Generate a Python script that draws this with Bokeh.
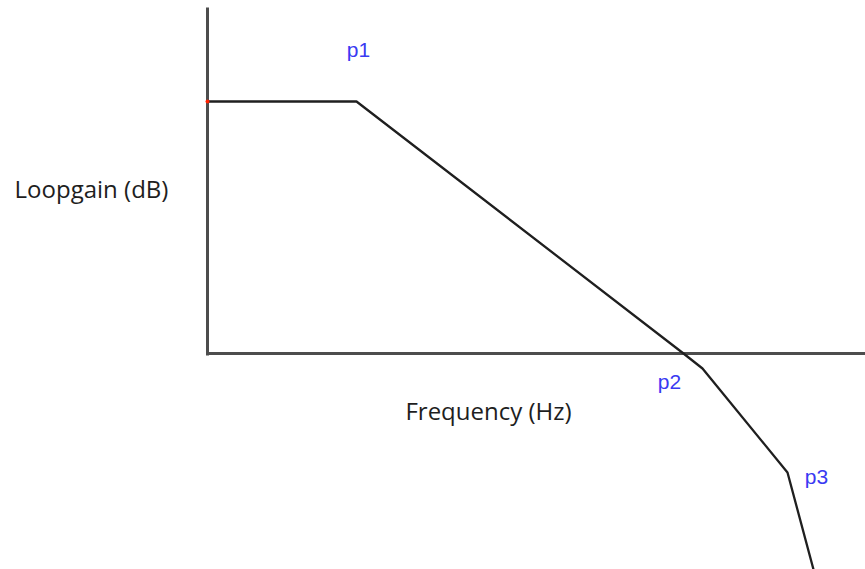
from bokeh.plotting import figure
from bokeh.models import Range1d
from bokeh.core.properties import value
from bokeh.embed import file_html
from bokeh.resources import INLINE

# Bode asymptote (log-frequency units, gain units; origin = 0 dB crossing axes)
freq = [0.0, 1.49, 4.76, 4.95, 5.80, 6.06]
gain = [2.52, 2.52, 0.0, -0.15, -1.19, -2.16]

# pole labels
pole_names = ["p1", "p2", "p3"]
pole_lx = [1.51, 4.62, 6.09]
pole_ly = [3.04, -0.28, -1.23]

y_label = "Loopgain (dB)"
x_label = "Frequency (Hz)"

W, H = 865, 569
X0, Y0 = 2.07, 3.53
p = figure(width=W, height=H, output_backend="svg", toolbar_location=None,
           x_range=Range1d(-X0, -X0 + W / 100), y_range=Range1d(Y0 - H / 100, Y0),
           min_border=0, outline_line_color=None)
p.axis.visible = False
p.grid.visible = False
p.background_fill_color = "white"
p.border_fill_color = "white"

axis_col = "#4d4d4d"
# axes
p.segment(x0=[0.0], y0=[3.46], x1=[0.0], y1=[-0.02], line_color=axis_col, line_width=3)
p.segment(x0=[0.0], y0=[0.0], x1=[6.6], y1=[0.0], line_color=axis_col, line_width=3)

# curve
p.line(freq, gain, line_color="#1f1f1f", line_width=2.3)
p.scatter([freq[0]], [gain[0]], size=4, color="#ff2200", line_color=None)

# labels
p.text(x=pole_lx, y=pole_ly, text=pole_names, text_align="center", text_baseline="alphabetic",
       text_font=value("Liberation Sans"), text_font_size="21px", text_color="#3a3af2")
p.text(x=[-1.16], y=[1.65], text=[y_label], text_align="center", text_baseline="alphabetic",
       text_font=value("Open Sans"), text_font_size="24px", text_color="#1e1e1e")
p.text(x=[2.81], y=[-0.57], text=[x_label], text_align="center", text_baseline="alphabetic",
       text_font=value("Open Sans"), text_font_size="24px", text_color="#1e1e1e")

open("out.html", "w").write(file_html(p, INLINE))
